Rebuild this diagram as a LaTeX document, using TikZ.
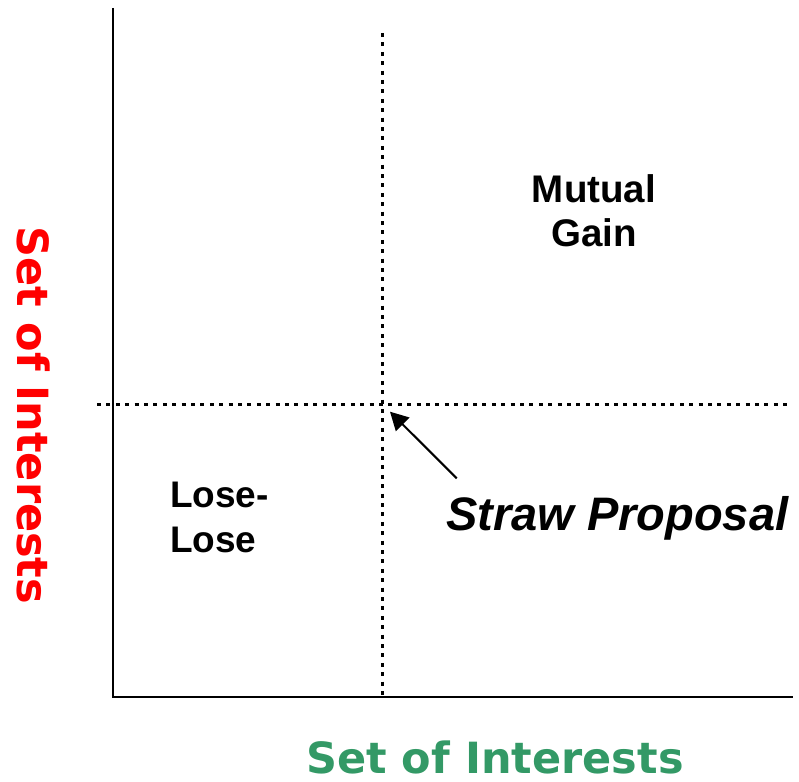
\documentclass[tikz,border=0pt]{standalone}
\usepackage{fontspec}
\setmainfont{Liberation Sans}
\newfontfamily\axisfont{DejaVu Sans}
\usetikzlibrary{arrows.meta}
\definecolor{axisgreen}{RGB}{51,153,102}
\tikzset{
  axisline/.style={line width=2pt, black},
  dotline/.style={line width=3.6pt, black, dash pattern=on 4pt off 5.4pt},
  quadlabel/.style={font=\fontsize{37}{44.4}\selectfont\bfseries, inner sep=0pt},
  axislabel/.style={font=\axisfont\fontsize{43}{50}\selectfont\bfseries, inner sep=0pt, text depth=0pt},
  pointer/.style={line width=2pt, -{Triangle[length=18pt,width=19pt]}}
}
\begin{document}
\begin{tikzpicture}[x=1pt,y=-1pt]
\useasboundingbox (0,0) rectangle (799,781);
% axes
\coordinate (ytop) at (112.5,8);
\coordinate (org) at (112.5,696.5);
\coordinate (xend) at (793,696.5);
\draw[axisline] (ytop) -- (org) -- (xend);
% dotted reference lines
\coordinate (vtop) at (382.5,33);
\coordinate (vbot) at (382.5,697);
\coordinate (hl) at (97,404.5);
\coordinate (hr) at (790,404.5);
\draw[dotline] (vtop) -- (vbot);
\draw[dotline] (hl) -- (hr);
% labels (base anchor = last line)
\node[quadlabel, font=\fontsize{38.5}{44.4}\selectfont\bfseries, anchor=base, align=center] (mutual) at (594,246.7) {Mutual\\Gain};
\node[quadlabel, anchor=base west, align=left] (lose) at (170,552) {Lose-\\Lose};
\node[font=\fontsize{47}{56}\selectfont\bfseries\itshape, inner sep=0pt, anchor=base west] (straw) at (446,530) {Straw Proposal};
% pointer
\coordinate (tail) at (456.7,478.3);
\coordinate (tip) at (390,411.7);
\draw[pointer] (tail) -- (tip);
% axis labels
\node[axislabel, text=axisgreen, anchor=base] (xlab) at (495,773.3) {Set of Interests};
\node[axislabel, text=red, anchor=base, rotate=-90] (ylab) at (17.3,415.5) {Set of Interests};
\end{tikzpicture}
\end{document}
